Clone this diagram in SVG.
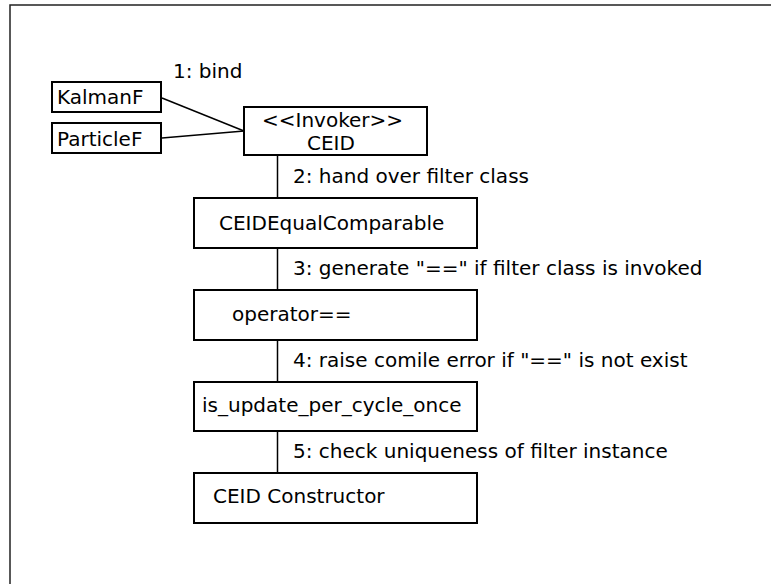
<svg xmlns="http://www.w3.org/2000/svg" width="771" height="584" viewBox="0 0 771 584">
<style>
.box{fill:#fff;stroke:#000;stroke-width:2}
.t{font-family:"DejaVu Sans",sans-serif;font-size:20px;fill:#000}
.c{stroke:#000;stroke-width:1.5;fill:none}
</style>
<rect x="0" y="0" width="771" height="584" fill="#fff"/>
<rect x="10" y="5" width="780" height="600" fill="none" stroke="#222" stroke-width="1.5"/>
<g id="connectors">
<line class="c" x1="162" y1="98" x2="244" y2="131"/>
<line class="c" x1="162" y1="138" x2="244" y2="131"/>
<line class="c" x1="277.5" y1="155" x2="277.5" y2="198"/>
<line class="c" x1="277.5" y1="248" x2="277.5" y2="290"/>
<line class="c" x1="277.5" y1="340" x2="277.5" y2="382"/>
<line class="c" x1="277.5" y1="431" x2="277.5" y2="473"/>
<text class="t" x="173" y="78">1: bind</text>
<text class="t" x="293" y="183">2: hand over filter class</text>
<text class="t" x="293" y="275">3: generate "==" if filter class is invoked</text>
<text class="t" x="293" y="367">4: raise comile error if "==" is not exist</text>
<text class="t" x="293" y="458">5: check uniqueness of filter instance</text>
</g>
<g id="kalmanf">
<rect class="box" x="52" y="82" width="109" height="30" stroke-width="2.5"/>
<text class="t" x="57" y="104">KalmanF</text>
</g>
<g id="particlef">
<rect class="box" x="52" y="123" width="109" height="30"/>
<text class="t" x="57" y="146">ParticleF</text>
</g>
<g id="ceid">
<rect class="box" x="244" y="107" width="183" height="48"/>
<text class="t" x="262" y="127">&lt;&lt;Invoker&gt;&gt;</text>
<text class="t" x="307" y="150">CEID</text>
</g>
<g id="ceidequalcomparable">
<rect class="box" x="194" y="198" width="283" height="50"/>
<text class="t" x="219" y="230">CEIDEqualComparable</text>
</g>
<g id="operator">
<rect class="box" x="194" y="290" width="283" height="50"/>
<text class="t" x="232" y="321">operator==</text>
</g>
<g id="isupdate">
<rect class="box" x="194" y="382" width="283" height="49"/>
<text class="t" x="202" y="412">is_update_per_cycle_once</text>
</g>
<g id="constructor">
<rect class="box" x="194" y="473" width="283" height="50"/>
<text class="t" x="213" y="503">CEID Constructor</text>
</g>
</svg>
